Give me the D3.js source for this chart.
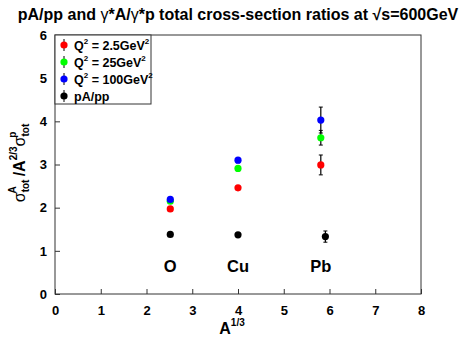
<!DOCTYPE html>
<html>
<head>
<meta charset="utf-8">
<script src="https://cdn.jsdelivr.net/npm/d3@7"></script>
<style>
  body { margin: 0; background: #fff; }
  svg { font-family: "Liberation Sans", Arial, sans-serif; }
  .axis text { font-size: 13px; font-weight: bold; fill: #000; }
  .axis path, .axis line { stroke: #333; }
</style>
</head>
<body>
<svg id="chart" width="461" height="340"></svg>
<script>
// x positions (A^1/3) and nuclei
var nuclei = ["O", "Cu", "Pb"];
var xA = [2.52, 4.0, 5.81];
var xPA = [2.52, 4.0, 5.91];

// ratios per series
var q2_25 = [1.97, 2.46, 2.99];
var q2_25err = [0, 0, 0.23];
var q2_250 = [2.15, 2.91, 3.62];
var q2_250err = [0, 0, 0.17];
var q2_100 = [2.19, 3.10, 4.03];
var q2_100err = [0, 0.06, 0.30];
var papp = [1.38, 1.37, 1.33];
var pappErr = [0.04, 0.05, 0.13];

var xTicks = [0, 1, 2, 3, 4, 5, 6, 7, 8];
var yTicks = [0, 1, 2, 3, 4, 5, 6];

var series = [
  { name: "Q2 = 2.5GeV2", lab: ["Q", "2", " = 2.5GeV", "2"], color: "#ff0000", x: xA, y: q2_25, e: q2_25err },
  { name: "Q2 = 25GeV2", lab: ["Q", "2", " = 25GeV", "2"], color: "#00ff00", x: xA, y: q2_250, e: q2_250err },
  { name: "Q2 = 100GeV2", lab: ["Q", "2", " = 100GeV", "2"], color: "#0000ff", x: xA, y: q2_100, e: q2_100err },
  { name: "pA/pp", lab: ["pA/pp"], color: "#000000", x: xPA, y: papp, e: pappErr }
];

var svg = d3.select("#chart");
var mLeft = 55, mRight = 421, mTop = 35, mBottom = 294;

var x = d3.scaleLinear().domain([0, 8]).range([mLeft, mRight]);
var y = d3.scaleLinear().domain([0, 6]).range([mBottom, mTop]);

// frame
svg.append("rect")
  .attr("x", mLeft).attr("y", mTop)
  .attr("width", mRight - mLeft).attr("height", mBottom - mTop)
  .attr("fill", "none").attr("stroke", "#333").attr("stroke-width", 1);

// axes with inward ticks
var gx = svg.append("g").attr("class", "axis")
  .attr("transform", "translate(0," + mBottom + ")")
  .call(d3.axisBottom(x).tickValues(xTicks).tickFormat(d3.format("d")).tickSizeInner(-5).tickSizeOuter(0).tickPadding(12));
gx.select(".domain").remove();

var gy = svg.append("g").attr("class", "axis")
  .attr("transform", "translate(" + mLeft + ",0)")
  .call(d3.axisLeft(y).tickValues(yTicks).tickFormat(d3.format("d")).tickSizeInner(-5).tickSizeOuter(0).tickPadding(8));
gy.select(".domain").remove();

// title
var title = svg.append("text")
  .attr("x", 238).attr("y", 20)
  .attr("text-anchor", "middle")
  .style("font-size", "16px").style("font-weight", "bold");
title.append("tspan").text("pA/pp and ");
title.append("tspan").style("font-weight", "normal").text("\u03b3");
title.append("tspan").text("*A/");
title.append("tspan").style("font-weight", "normal").text("\u03b3");
title.append("tspan").text("*p total cross-section ratios at \u221as=600GeV");

// axis titles
var xt = svg.append("text")
  .attr("x", 232).attr("y", 334)
  .attr("text-anchor", "middle")
  .style("font-size", "16px").style("font-weight", "bold");
xt.append("tspan").text("A");
xt.append("tspan").attr("dy", -8).style("font-size", "10px").text("1/3");

var yt = svg.append("text")
  .attr("transform", "translate(25,163) rotate(-90)")
  .attr("text-anchor", "middle")
  .style("font-size", "16px").style("font-weight", "bold");
yt.append("tspan").style("font-weight", "normal").text("\u03c3");
yt.append("tspan").attr("dy", 4).style("font-size", "10px").text("tot");
yt.append("tspan").attr("dx", -14).attr("dy", -13).style("font-size", "10px").text("A");
yt.append("tspan").attr("dx", 10).attr("dy", 9).text("/A");
yt.append("tspan").attr("dy", -8).style("font-size", "10px").text("2/3");
yt.append("tspan").attr("dy", 8).style("font-weight", "normal").text("\u03c3");
yt.append("tspan").attr("dy", 4).style("font-size", "10px").text("tot");
yt.append("tspan").attr("dx", -14).attr("dy", -13).style("font-size", "10px").text("p");

// nucleus labels
svg.selectAll(".nuc").data(nuclei).enter().append("text")
  .attr("class", "nuc")
  .attr("x", function(d, i) { return x(xA[i]); })
  .attr("y", y(0.5))
  .attr("text-anchor", "middle")
  .style("font-size", "16.5px").style("font-weight", "bold")
  .text(function(d) { return d; });

// points + error bars
series.forEach(function(s) {
  var g = svg.append("g");
  s.y.forEach(function(v, i) {
    if (s.e[i] > 0) {
      var cx = x(s.x[i]);
      g.append("line")
        .attr("x1", cx).attr("x2", cx)
        .attr("y1", y(v - s.e[i])).attr("y2", y(v + s.e[i]))
        .attr("stroke", "#000").attr("stroke-width", 1.2);
      [v - s.e[i], v + s.e[i]].forEach(function(t) {
        g.append("line")
          .attr("x1", cx - 2).attr("x2", cx + 2)
          .attr("y1", y(t)).attr("y2", y(t))
          .attr("stroke", "#000").attr("stroke-width", 1);
      });
    }
  });
  g.selectAll("circle").data(s.y).enter().append("circle")
    .attr("cx", function(d, i) { return x(s.x[i]); })
    .attr("cy", function(d) { return y(d); })
    .attr("r", 3.6)
    .attr("fill", s.color);
});

// legend
var lg = svg.append("g");
lg.append("rect")
  .attr("x", mLeft).attr("y", mTop)
  .attr("width", 96).attr("height", 69)
  .attr("fill", "#fff").attr("stroke", "#333");
series.forEach(function(s, i) {
  var ly = 45 + i * 17;
  lg.append("line")
    .attr("x1", 64).attr("x2", 64)
    .attr("y1", ly - 6).attr("y2", ly + 6)
    .attr("stroke", "#000").attr("stroke-width", 1);
  lg.append("circle").attr("cx", 64).attr("cy", ly).attr("r", 3.6).attr("fill", s.color);
  var t = lg.append("text")
    .attr("x", 74).attr("y", ly + 4.5)
    .style("font-size", "12.5px").style("font-weight", "bold");
  if (s.lab.length === 1) {
    t.text(s.lab[0]);
  } else {
    t.append("tspan").text(s.lab[0]);
    t.append("tspan").attr("dy", -6).style("font-size", "8px").text(s.lab[1]);
    t.append("tspan").attr("dy", 6).text(s.lab[2]);
    t.append("tspan").attr("dy", -6).style("font-size", "8px").text(s.lab[3]);
  }
});
</script>
</body>
</html>
